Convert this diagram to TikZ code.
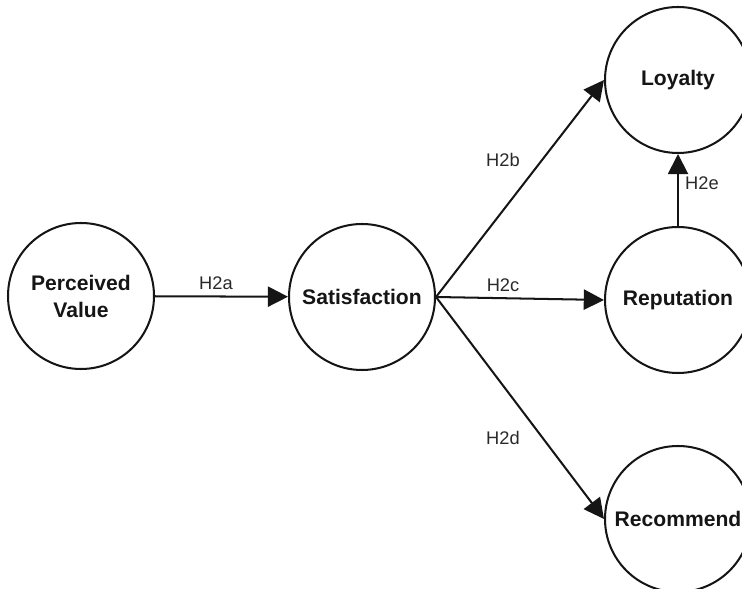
\documentclass[tikz,border=0pt]{standalone}
\usepackage{fontspec}
\setmainfont{Liberation Sans}
\usetikzlibrary{arrows.meta,positioning}
\definecolor{Ink}{HTML}{151515}
\definecolor{LabelGray}{HTML}{2A2A2A}
\tikzset{
  construct/.style={
    circle, draw=Ink, line width=1.15pt, fill=white, minimum size=2.92cm,
    inner sep=0pt, align=center, text=Ink, font=\fontsize{12}{15.4}\selectfont\bfseries
  },
  pathlabel/.style={font=\fontsize{10.4}{12}\selectfont, text=LabelGray, inner sep=0pt},
  patharrow/.style={-{Triangle[length=11.5pt, width=11.5pt]}, Ink, line width=1.15pt},
}
\begin{document}
\begin{tikzpicture}
    \useasboundingbox (0,0) rectangle (14.84,11.78);
    \clip (0,0) rectangle (14.84,11.78);
    % constructs
    \node[construct] (value) at (1.62,5.86) {Perceived\\Value};
    \node[construct] (satisfaction) at (7.24,5.84) {Satisfaction};
    \node[construct] (loyalty) at (13.56,10.18) {Loyalty};
    \node[construct] (reputation) at (13.56,5.78) {Reputation};
    \node[construct] (recommend) at (13.56,1.40) {Recommend};
    % hypotheses
    \draw[patharrow] (value) -- (satisfaction);
    \draw[patharrow] (satisfaction.east) -- (loyalty.west);
    \draw[patharrow] (satisfaction.east) -- (reputation.west);
    \draw[patharrow] (satisfaction.east) -- (recommend.west);
    \draw[patharrow] (reputation) -- (loyalty);
    \node[pathlabel] (h2a) at (4.32,6.12) {H2a};
    \node[pathlabel] (h2b) at (10.06,8.58) {H2b};
    \node[pathlabel] (h2c) at (10.06,6.08) {H2c};
    \node[pathlabel] (h2d) at (10.06,3.02) {H2d};
    \node[pathlabel] (h2e) at (14.04,8.12) {H2e};
  \end{tikzpicture}
\end{document}
